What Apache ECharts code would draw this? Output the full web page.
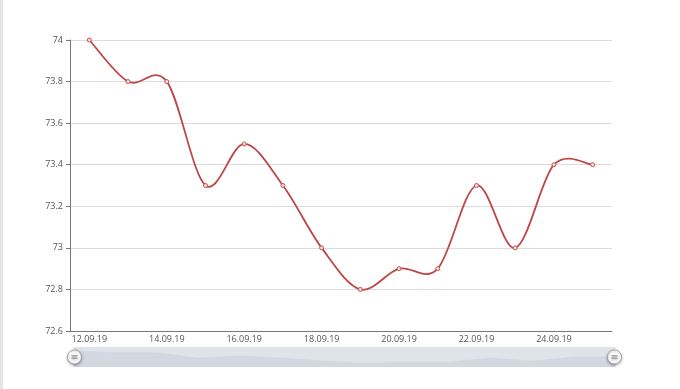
<!DOCTYPE html>
<html><head><meta charset="utf-8">
<script src="https://cdn.jsdelivr.net/npm/echarts@6/dist/echarts.min.js"></script>
<style>html,body{margin:0;padding:0;background:#fff}#c{width:680px;height:389px}#edge{position:absolute;left:0;top:0;width:3px;height:389px;background:#e4e4e4}</style>
</head><body><div id="c"></div><div id="edge"></div>
<script>
const categories = ['12.09.19','13.09.19','14.09.19','15.09.19','16.09.19','17.09.19','18.09.19','19.09.19','20.09.19','21.09.19','22.09.19','23.09.19','24.09.19','25.09.19'];
const values = [74, 73.8, 73.8, 73.3, 73.5, 73.3, 73.0, 72.8, 72.9, 72.9, 73.3, 73.0, 73.4, 73.4];
const chart = echarts.init(document.getElementById('c'));
const labelFont = {color:'#555', fontSize:9, fontFamily:'"Open Sans", sans-serif'};
function splinePath(api){
  const pts = values.map(function(v,i){return api.coord([i, v]);});
  let d = 'M' + pts[0][0] + ',' + pts[0][1];
  for (let i = 0; i < pts.length - 1; i++) {
    const p0 = pts[Math.max(i-1,0)], p1 = pts[i], p2 = pts[i+1], p3 = pts[Math.min(i+2, pts.length-1)];
    const c1x = p1[0] + (p2[0]-p0[0])/6, c1y = p1[1] + (p2[1]-p0[1])/6;
    const c2x = p2[0] - (p3[0]-p1[0])/6, c2y = p2[1] - (p3[1]-p1[1])/6;
    d += 'C' + c1x + ',' + c1y + ',' + c2x + ',' + c2y + ',' + p2[0] + ',' + p2[1];
  }
  return d;
}
chart.setOption({
  animation:false,
  grid:{left:70, right:68, top:40, bottom:58},
  xAxis:{type:'category', data:categories, boundaryGap:true,
    axisLine:{lineStyle:{color:'#777'}},
    axisTick:{alignWithLabel:true, interval:function(i){return i%2===1;}, length:5, lineStyle:{color:'#777'}},
    axisLabel:Object.assign({interval:1, margin:4}, labelFont),
    splitLine:{show:false}},
  yAxis:{type:'value', min:72.6, max:74, interval:0.2,
    axisLine:{show:true, lineStyle:{color:'#777'}},
    axisTick:{show:true, length:4, lineStyle:{color:'#777'}},
    axisLabel:Object.assign({margin:7, formatter:function(v){return String(+v.toFixed(1));}}, labelFont),
    splitLine:{lineStyle:{color:'#dcdcdc'}}},
  dataZoom:[{type:'slider', xAxisIndex:0, left:71, right:67, top:347, height:20,
    backgroundColor:'#dfe4eb', borderColor:'transparent', fillerColor:'rgba(0,0,0,0)',
    showDetail:false, brushSelect:false, moveHandleSize:0, filterMode:'none',
    dataBackground:{lineStyle:{color:'#cdd4de', width:0.5}, areaStyle:{color:'#d1d8e2', opacity:1}},
    selectedDataBackground:{lineStyle:{color:'#cdd4de', width:0.5}, areaStyle:{color:'#d1d8e2', opacity:1}},
    handleIcon:'path://M10,0A10,10,0,1,1,10,20A10,10,0,1,1,10,0Z M6,8H14V8.6H6Z M6,11.4H14V12H6Z',
    handleSize:'70%',
    handleStyle:{color:'#fff', borderColor:'#999', borderWidth:0.8, shadowBlur:3, shadowColor:'rgba(0,0,0,0.35)', shadowOffsetY:1},
    emphasis:{handleStyle:{color:'#fff'}}
  }],
  series:[
    {type:'custom', data:[[0, values[0]]], silent:true, z:2,
      renderItem:function(params, api){
        return {type:'path', shape:{pathData:splinePath(api)},
          style:{fill:null, stroke:'#bf4646', lineWidth:1.8}};
      }},
    {type:'line', data:values, smooth:true, z:3,
    symbol:'circle', symbolSize:4, showAllSymbol:true,
    itemStyle:{color:'#f4dede', borderColor:'#c0504d', borderWidth:1},
    lineStyle:{opacity:0}}]
});
</script></body></html>
